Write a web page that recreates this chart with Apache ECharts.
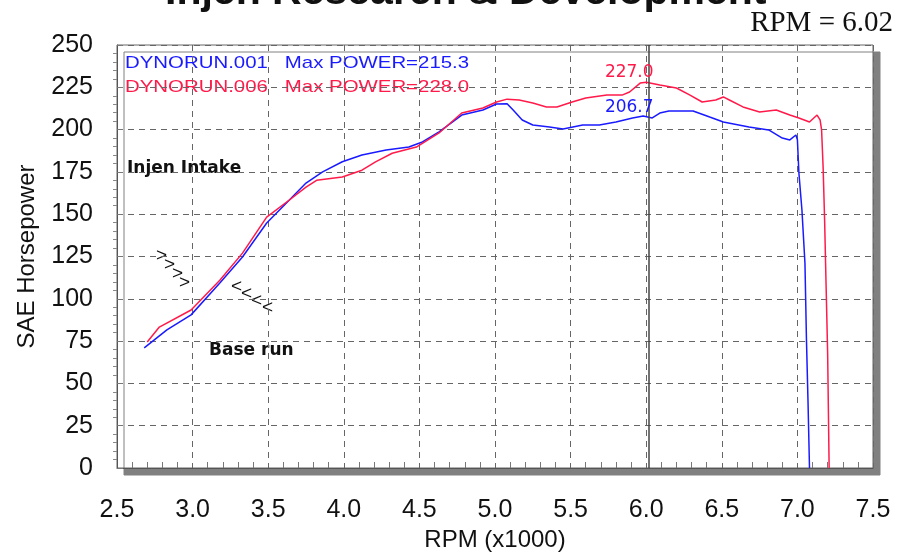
<!DOCTYPE html>
<html>
<head>
<meta charset="utf-8">
<script src="https://cdn.jsdelivr.net/npm/echarts@6/dist/echarts.min.js"></script>
<style>
  html, body { margin: 0; padding: 0; background: #fff; }
  #chart { width: 897px; height: 552px; }
</style>
</head>
<body>
<div id="chart"></div>
<script>
// base run (DYNORUN.001)
const baseRpm = [2.68, 2.83, 2.99, 3.18, 3.33, 3.49, 3.64, 3.75, 3.86, 3.99, 4.12, 4.28, 4.43, 4.52, 4.63, 4.78, 4.92, 5.01, 5.08, 5.12, 5.18, 5.25, 5.36, 5.45, 5.58, 5.69, 5.80, 5.91, 5.98, 6.04, 6.09, 6.15, 6.31, 6.42, 6.51, 6.68, 6.81, 6.90, 6.95, 6.99, 7.00, 7.01, 7.03, 7.05, 7.06, 7.07, 7.08];
const baseHp = [71, 81.6, 90.5, 109.3, 124.7, 144.8, 158.4, 168.4, 175, 181, 185, 188, 189.7, 192.7, 198.6, 208.6, 211.6, 215.1, 215.3, 211.6, 205.7, 202.7, 201.5, 200.4, 202.7, 202.7, 204.5, 206.9, 208, 206.9, 209.8, 211, 211, 207.4, 204.5, 201.5, 199.8, 195, 193.9, 196.8, 194, 174.3, 152.5, 121, 75.6, 40, 0];

// injen intake (DYNORUN.006)
const injenRpm = [2.70, 2.78, 2.99, 3.18, 3.33, 3.49, 3.64, 3.75, 3.82, 3.99, 4.12, 4.21, 4.32, 4.48, 4.63, 4.78, 4.92, 5.01, 5.08, 5.16, 5.25, 5.34, 5.41, 5.51, 5.60, 5.74, 5.84, 5.89, 5.96, 6.00, 6.09, 6.20, 6.29, 6.37, 6.46, 6.51, 6.55, 6.64, 6.75, 6.86, 6.95, 7.01, 7.08, 7.13, 7.15, 7.16, 7.17, 7.18, 7.19, 7.20, 7.21];
const injenHp = [74.5, 83.3, 93.4, 111, 127, 148.3, 158.4, 166, 170, 172, 176, 180.9, 186, 189.7, 198, 209.8, 212.8, 216.3, 218, 217.5, 215.7, 213.4, 213.4, 216.3, 218.7, 220.4, 220.4, 222.2, 227.5, 228, 226.4, 224.6, 220.4, 216.3, 217.5, 219.3, 217.5, 213.4, 210.4, 211.6, 208.6, 206.9, 204.5, 208.6, 205.7, 199.8, 178, 146.6, 107, 68, 0];

const cursorRpm = 6.02;
const cursorValues = [227.0, 206.7];
const legendLines = ['DYNORUN.001   Max POWER=215.3', 'DYNORUN.006   Max POWER=228.0'];

const BLUE = '#1a1aff';
const RED = '#ff1a4a';

const zip = (xs, ys) => xs.map((x, i) => [x, ys[i]]);

const chart = echarts.init(document.getElementById('chart'));

const axisFont = { fontFamily: 'Liberation Sans, Arial', fontSize: 25, color: '#111' };
const chevron = (ch, x, y) => ({ type: 'text', x: x, y: y, style: { text: ch, font: '19px "Liberation Sans", Arial', fill: '#111' } });

chart.setOption({
  animation: false,
  backgroundColor: '#fff',
  grid: {
    left: 117, right: 24, top: 45, bottom: 84,
    outerBoundsMode: 'none',
    show: true,
    backgroundColor: '#fff',
    borderColor: '#666',
    borderWidth: 1,
    shadowColor: '#808080',
    shadowBlur: 0,
    shadowOffsetX: 7,
    shadowOffsetY: 7
  },
  xAxis: {
    type: 'value',
    min: 2.5, max: 7.5, interval: 0.5,
    name: 'RPM (x1000)',
    nameLocation: 'middle',
    nameGap: 60,
    nameTextStyle: { fontFamily: 'Liberation Sans, Arial', fontSize: 24, color: '#111' },
    axisLine: { lineStyle: { color: '#555' } },
    axisTick: { show: false },
    minorTick: { show: true, splitNumber: 5, length: -6, lineStyle: { color: '#777' } },
    axisLabel: Object.assign({ margin: 30, formatter: v => v.toFixed(1) }, axisFont),
    splitLine: { show: true, lineStyle: { color: '#666', type: [6, 5] } }
  },
  yAxis: {
    type: 'value',
    min: 0, max: 250, interval: 25,
    name: 'SAE Horsepower',
    nameLocation: 'middle',
    nameGap: 78,
    nameTextStyle: { fontFamily: 'Liberation Sans, Arial', fontSize: 24, color: '#111' },
    axisLine: { show: true, lineStyle: { color: '#555' } },
    axisTick: { show: true, inside: true, length: 6, lineStyle: { color: '#777' } },
    minorTick: { show: true, splitNumber: 5, length: -4, lineStyle: { color: '#888' } },
    axisLabel: Object.assign({ margin: 24 }, axisFont),
    splitLine: { show: true, lineStyle: { color: '#666', type: [6, 5] } }
  },
  series: [
    {
      name: 'DYNORUN.001',
      type: 'line',
      data: zip(baseRpm, baseHp),
      showSymbol: false,
      lineStyle: { color: BLUE, width: 1.5 },
      itemStyle: { color: BLUE },
      markPoint: {
        symbolSize: 0,
        data: [{ coord: [cursorRpm, cursorValues[1]], value: cursorValues[1] }],
        label: {
          show: true, formatter: cursorValues[1].toFixed(1),
          color: BLUE, fontFamily: 'DejaVu Sans', fontSize: 17,
          offset: [-20, -11]
        }
      }
    },
    {
      name: 'DYNORUN.006',
      type: 'line',
      data: zip(injenRpm, injenHp),
      showSymbol: false,
      lineStyle: { color: RED, width: 1.5 },
      itemStyle: { color: RED },
      markLine: {
        silent: true, symbol: 'none',
        lineStyle: { color: '#444', type: 'solid', width: 1.5 },
        label: { show: false },
        data: [{ xAxis: cursorRpm }]
      },
      markPoint: {
        symbolSize: 0,
        data: [{ coord: [cursorRpm, cursorValues[0]], value: cursorValues[0] }],
        label: {
          show: true, formatter: cursorValues[0].toFixed(1),
          color: RED, fontFamily: 'DejaVu Sans', fontSize: 17,
          offset: [-20, -11]
        }
      }
    }
  ],
  graphic: [
    { type: 'text', left: 165, top: -28,
      style: { text: 'Injen Research & Development', font: 'bold 41px "Liberation Sans", Arial', fill: '#111' } },
    { type: 'text', right: 4, top: 9,
      style: { text: 'RPM = ' + cursorRpm.toFixed(2), font: '29px "Liberation Serif", "Times New Roman"', fill: '#111' } },
    { type: 'text', x: 125, y: 55, scaleX: 1.2,
      style: { text: legendLines[0], font: '17px "Liberation Sans", Arial', fill: BLUE } },
    { type: 'text', x: 125, y: 79, scaleX: 1.2,
      style: { text: legendLines[1], font: '17px "Liberation Sans", Arial', fill: RED } },
    { type: 'text', left: 127, top: 160,
      style: { text: 'Injen Intake', font: 'bold 17px "DejaVu Sans"', fill: '#111' } },
    { type: 'text', left: 209, top: 342,
      style: { text: 'Base run', font: 'bold 17px "DejaVu Sans"', fill: '#111' } },
    chevron('>', 156, 246), chevron('>', 164, 255), chevron('>', 172, 264), chevron('>', 179, 273),
    chevron('<', 231, 277), chevron('<', 241, 284), chevron('<', 251, 291), chevron('<', 262, 298)
  ]
});
</script>
</body>
</html>
